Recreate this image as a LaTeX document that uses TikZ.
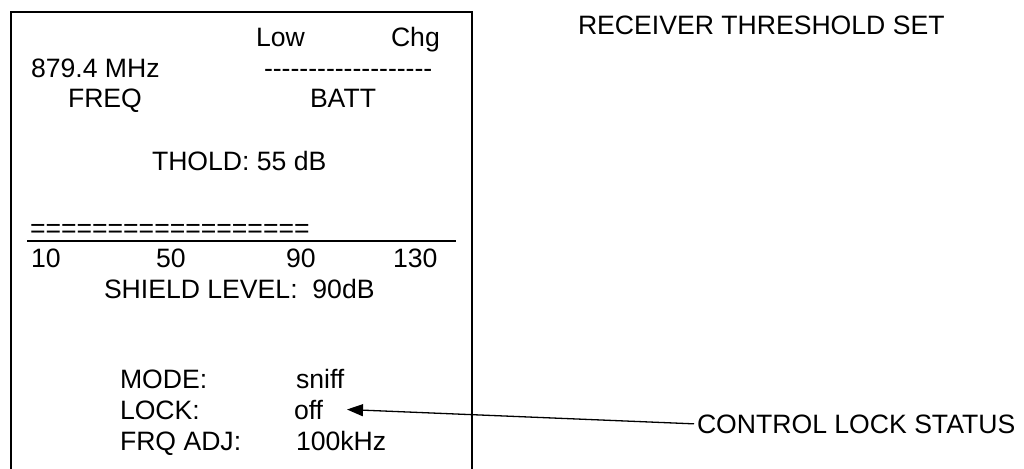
\documentclass[tikz,border=0pt]{standalone}
\usepackage{fontspec}
\setmainfont{Liberation Sans}
\usetikzlibrary{arrows.meta}
\newcommand{\fsz}{\fontsize{26.6}{30}\selectfont}
\newcommand{\hy}{\hbox{-}}
\newcommand{\hyrow}{\hy\hy\hy\hy\hy\hy\hy\hy\hy\hy\hy\hy\hy\hy\hy\hy\hy\hy\hy}
\tikzset{
  txt/.style={anchor=base west, inner sep=0pt, outer sep=0pt, font=\fsz},
  frame/.style={line width=1.3pt},
  rule/.style={line width=1.6pt},
  callout/.style={line width=1.3pt, -{Triangle[length=16pt,width=12pt]}}
}
\begin{document}
\begin{tikzpicture}[x=1pt,y=-1pt]
\useasboundingbox (0,0) rectangle (1024,468);
% display frame (open at bottom)
\draw[frame] (11,475) -- (11,12) -- (472,12) -- (472,475);
% battery header
\node[txt] (low) at (256,47) {Low};
\node[txt] (chg) at (391,47) {Chg};
\node[txt] (freqv) at (31,78) {879.4 MHz};
\node[txt] (dash) at (264,78) {\hyrow};
\node[txt] (freq) at (68,108) {FREQ};
\node[txt] (batt) at (310,108) {BATT};
% threshold
\node[txt] (thold) at (152,170) {THOLD: 55 dB};
% bar
\node[txt] (bar) at (30,237) {==================};
\coordinate (ruleL) at (27,241);
\coordinate (ruleR) at (456,241);
\draw[rule] (ruleL) -- (ruleR);
\node[txt] (s10) at (31,267) {10};
\node[txt] (s50) at (156,267) {50};
\node[txt] (s90) at (286,267) {90};
\node[txt] (s130) at (393,267) {130};
\node[txt] (shield) at (104,298) {SHIELD LEVEL:\ \ 90dB};
% status lines
\node[txt] (mode) at (120,388) {MODE:};
\node[txt] (sniff) at (296,388) {sniff};
\node[txt] (lock) at (120,419) {LOCK:};
\node[txt] (off) at (294,419) {off};
\node[txt] (frqadj) at (120,450) {FRQ ADJ:};
\node[txt] (khz) at (296,450) {100kHz};
% titles
\node[txt] (title) at (578,35) {RECEIVER THRESHOLD SET};
\node[txt] (cls) at (697,433) {CONTROL LOCK STATUS};
% callout arrow
\coordinate (tip) at (347,409.5);
\draw[callout] (cls.west) ++(-3,0) -- (tip);
\end{tikzpicture}
\end{document}
